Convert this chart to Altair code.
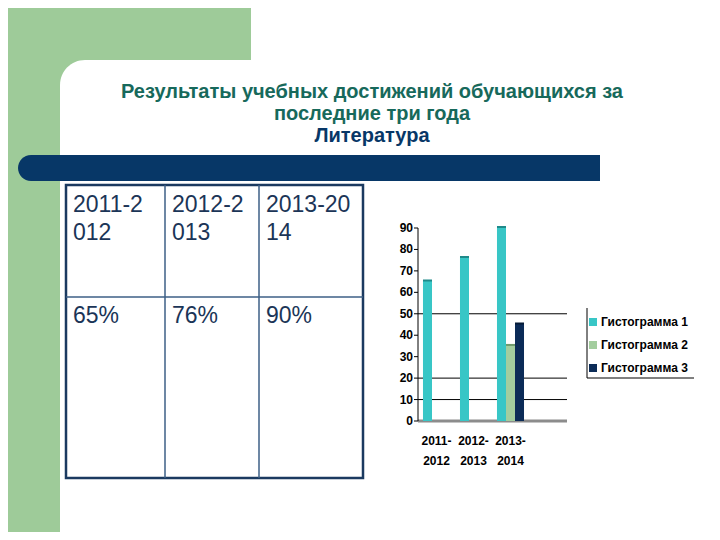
import altair as alt
import pandas as pd

# ---------------- data ----------------
categories = ["2011-\n2012", "2012-\n2013", "2013-\n2014", " "]
series = ["Гистограмма 1", "Гистограмма 2", "Гистограмма 3"]
hist1 = [65, 76, 90]
hist2 = [0, 0, 35]
hist3 = [0, 0, 45]
y_ticks = [0, 10, 20, 30, 40, 50, 60, 70, 80, 90]
grid_values = [10, 20, 50]

table_years = ["2011-2\n012", "2012-2\n013", "2013-20\n14"]
table_values = ["65%", "76%", "90%"]

title_lines = ["Результаты учебных достижений обучающихся за", "последние три года"]
subject = "Литература"

# ---------------- styles / layout ----------------
W, H = 704, 524
GREEN = "#9ecb99"
NAVY = "#073767"
TEAL_TXT = "#17695b"
TABLE_TXT = "#1b3557"
front_colors = ["#38c6c6", "#a3cd9e", "#0b2b57"]
side_colors = ["#1f8a8a", "#6f9a6b", "#051a36"]
SANS = "Liberation Sans"

one = pd.DataFrame({"a": [0]})

def rect(x, x2, y, y2, **kw):
    return alt.Chart(one).mark_rect(**kw).encode(
        x=alt.value(x), x2=alt.value(x2), y=alt.value(y), y2=alt.value(y2))

bg = rect(0, W, 0, H, color=GREEN)
card = rect(52, W, 52, H, color="white", cornerRadiusTopLeft=25)
top_white = rect(243, W, 0, 60, color="white")
navy_bar = rect(10, 592, 147, 173, color=NAVY, cornerRadiusTopLeft=13, cornerRadiusBottomLeft=13)

title1 = alt.Chart(pd.DataFrame({"t": title_lines, "y": [84, 106]})).mark_text(
    font=SANS, fontSize=20, fontWeight="bold", color=TEAL_TXT, baseline="middle", align="center"
).encode(x=alt.value(364), y=alt.Y("y:Q", scale=None), text="t:N")
title2 = alt.Chart(pd.DataFrame({"t": [subject]})).mark_text(
    font=SANS, fontSize=20, fontWeight="bold", color=NAVY, baseline="middle", align="center"
).encode(x=alt.value(364), y=alt.value(128), text="t:N")

# table
col_edges = [58, 157, 251, 355]
tbl_rows = []
for i in range(3):
    tbl_rows.append({"t": table_years[i], "x": col_edges[i] + 7, "y": 204})
    tbl_rows.append({"t": table_values[i], "x": col_edges[i] + 7, "y": 315})
tbl_df = pd.DataFrame(tbl_rows)
table_text = alt.Chart(tbl_df).mark_text(
    font=SANS, fontSize=23, color=TABLE_TXT, align="left", baseline="alphabetic",
    lineBreak="\n", lineHeight=28
).encode(x=alt.X("x:Q", scale=None), y=alt.Y("y:Q", scale=None), text="t:N")
table_outer = rect(58, 355, 177, 470, fillOpacity=0, stroke="#1b3a60", strokeWidth=2.5)
table_v1 = alt.Chart(one).mark_rule(color="#3d5f86", strokeWidth=1.5).encode(
    x=alt.value(157), y=alt.value(177), y2=alt.value(470))
table_v2 = alt.Chart(one).mark_rule(color="#3d5f86", strokeWidth=1.5).encode(
    x=alt.value(251), y=alt.value(177), y2=alt.value(470))
table_h = alt.Chart(one).mark_rule(color="#3d5f86", strokeWidth=1.5).encode(
    x=alt.value(58), x2=alt.value(355), y=alt.value(289))

# ---------------- bar chart ----------------
yscale = alt.Scale(domain=[0, 90], range=[413, 220])
xscale = alt.Scale(domain=categories, range=[410, 558], paddingInner=0.27, paddingOuter=0.135)
offscale = alt.Scale(domain=series, paddingInner=0, paddingOuter=0)

bar_rows = []
for i, cat in enumerate(categories[:3]):
    for s, vals in zip(series, [hist1, hist2, hist3]):
        bar_rows.append({"cat": cat, "series": s, "value": vals[i]})
bars_df = pd.DataFrame(bar_rows)

grid = alt.Chart(pd.DataFrame({"g": grid_values})).mark_rule(color="black", strokeWidth=1).encode(
    x=alt.value(410), x2=alt.value(559), y=alt.Y("g:Q", scale=yscale, axis=None))
floor = alt.Chart(one).mark_rule(color="#8c8c8c", strokeWidth=3).encode(
    x=alt.value(410), x2=alt.value(559), y=alt.YDatum(0, scale=yscale, axis=None))
y_axis_line = alt.Chart(one).mark_rule(color="black", strokeWidth=1).encode(
    x=alt.value(410), y=alt.YDatum(0, scale=yscale, axis=None), y2=alt.Y2Datum(90))
tick_df = pd.DataFrame({"v": y_ticks, "lab": [str(v) for v in y_ticks]})
y_ticks_marks = alt.Chart(tick_df).mark_rule(color="black").encode(
    x=alt.value(406), x2=alt.value(410), y=alt.Y("v:Q", scale=yscale, axis=None))
y_labels = alt.Chart(tick_df).mark_text(
    font=SANS, fontSize=12, fontWeight="bold", align="right", baseline="middle", color="black"
).encode(x=alt.value(405), y=alt.Y("v:Q", scale=yscale, axis=None), text="lab:N")

side_bars = alt.Chart(bars_df).mark_bar(xOffset=2, yOffset=-2).encode(
    x=alt.X("cat:N", scale=xscale, axis=None),
    xOffset=alt.XOffset("series:N", scale=offscale),
    y=alt.Y("value:Q", scale=yscale, axis=None),
    fill=alt.Fill("series:N", scale=alt.Scale(domain=series, range=side_colors), legend=None),
)
front_bars = alt.Chart(bars_df).mark_bar().encode(
    x=alt.X("cat:N", scale=xscale, axis=None),
    xOffset=alt.XOffset("series:N", scale=offscale),
    y=alt.Y("value:Q", scale=yscale, axis=None),
    color=alt.Color("series:N", scale=alt.Scale(domain=series, range=front_colors), legend=None),
)
cat_labels = alt.Chart(pd.DataFrame({"cat": categories})).mark_text(
    font=SANS, fontSize=12, fontWeight="bold", align="center", baseline="top",
    lineBreak="\n", lineHeight=20, color="black"
).encode(x=alt.X("cat:N", scale=xscale, axis=None), y=alt.value(428), text="cat:N")

bar_chart = alt.layer(grid, floor, y_axis_line, y_ticks_marks, y_labels,
                      side_bars, front_bars, cat_labels)

# legend
leg_df = pd.DataFrame({"series": series, "ly": [314, 337, 360]})
leg_sq = alt.Chart(leg_df).mark_square(size=64, opacity=1).encode(
    x=alt.value(585), y=alt.Y("ly:Q", scale=None),
    color=alt.Color("series:N", scale=alt.Scale(domain=series, range=front_colors), legend=None))
leg_txt = alt.Chart(leg_df).mark_text(
    font=SANS, fontSize=12, fontWeight="bold", align="left", baseline="middle", color="black"
).encode(x=alt.value(593), y=alt.Y("ly:Q", scale=None), text="series:N")
leg_left = alt.Chart(one).mark_rule(color="black").encode(
    x=alt.value(579), y=alt.value(300), y2=alt.value(370))
leg_bottom = alt.Chart(one).mark_rule(color="black").encode(
    x=alt.value(579), x2=alt.value(686), y=alt.value(370))

chart = alt.layer(
    bg, card, top_white, title1, title2, navy_bar,
    table_outer, table_v1, table_v2, table_h, table_text,
    bar_chart,
    leg_left, leg_bottom, leg_sq, leg_txt,
).resolve_scale(
    x="independent", y="independent", color="independent", fill="independent"
).properties(
    width=W, height=H, padding=0, autosize="none"
).configure_view(stroke=None)

chart.save("out.html", embed_options={"renderer": "svg", "actions": False})
